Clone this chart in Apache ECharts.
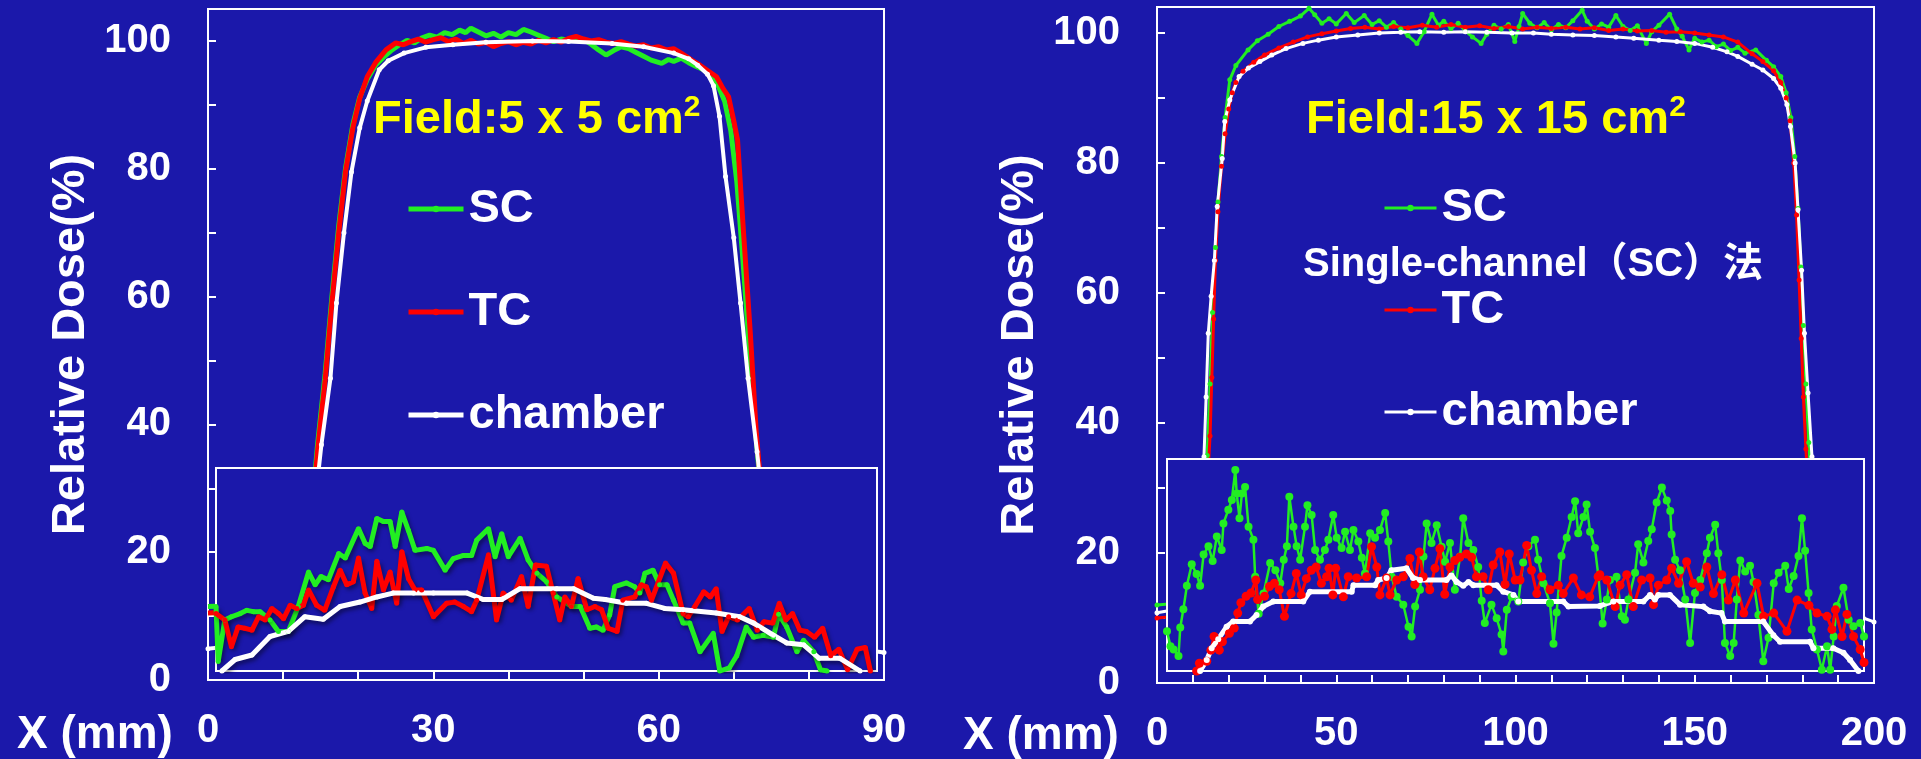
<!DOCTYPE html>
<html><head><meta charset="utf-8">
<script src="https://cdn.jsdelivr.net/npm/echarts@6/dist/echarts.min.js"></script>
<style>html,body{margin:0;padding:0;background:#1b18aa;}#c{width:1921px;height:759px;}</style>
</head><body><div id="c"></div>
<script>
// ---------- data (x in mm, y in % relative dose) ----------
const leftXTicks = [0, 30, 60, 90];
const rightXTicks = [0, 50, 100, 150, 200];
const yTicks = [0, 20, 40, 60, 80, 100];
const seriesNames = ['SC', 'TC', 'chamber'];

// Left: Field 5 x 5 cm2, main profiles
const leftMainSC = [[0,11.5],[3,11.6],[6,11.9],[8,12.3],[10,13.2],[11,14.2],[12,16.5],[13,21],[14,29],[14.6,37],[15.6,48],[16.5,60],[17.4,71],[18.3,80],[19.3,87],[20.2,91.2],[21.2,94.0],[22.3,96.2],[23.5,97.6],[24.5,98.6],[25.5,99.4],[26.5,100.1],[27.5,99.7],[28.5,100.5],[29.5,100.9],[30.5,100.6],[31.5,101.3],[32.5,101.0],[33.5,101.7],[34.3,101.3],[35,102.0],[36,101.4],[37,100.8],[38,101.2],[39,100.6],[40,101.3],[41,101.0],[42,101.8],[43,101.4],[44,100.9],[45,100.4],[46,99.9],[47,100.3],[48,100.1],[49,100.6],[50,100.2],[51,99.5],[52,98.6],[53,97.8],[54,98.5],[55,99.1],[56,98.8],[57,98.2],[58,97.6],[59,97.0],[60.4,96.5],[61.3,97.1],[62,96.8],[63,97.3],[64,96.6],[65,96.0],[66,95.5],[67,94.4],[68,92.8],[68.8,90.5],[69.6,86],[70.4,78],[71.2,66],[72,53],[72.9,39],[73.7,28],[74.7,20],[76,16],[78,14],[81,12.8],[84,12.2],[88,11.7]];
const leftMainTC = [[0,10.5],[3,10.6],[6,10.9],[8,11.3],[10,12.2],[11,13.2],[12,15.5],[13,20],[14,28],[14.6,36],[15.6,47],[16.5,59],[17.4,70],[18.3,79.5],[19.3,86.5],[20.2,91.0],[21.2,94.4],[22.3,96.6],[23.7,98.6],[25,99.7],[26,99.4],[27,99.9],[28,100.3],[29,99.8],[30,100.2],[31,100.5],[32,99.9],[33,100.3],[34,99.6],[35,100.1],[36,99.5],[37,99.8],[38,99.1],[39,99.6],[40,99.9],[41,99.4],[42,99.8],[43,99.5],[44,100.1],[45,99.7],[46,100.2],[47,99.8],[48,100.4],[49,100.7],[50,100.3],[51,100.0],[52,100.2],[53,99.8],[54,99.6],[55,99.9],[56,99.5],[57,99.2],[58,99.4],[59,98.9],[60,99.1],[61,98.6],[62,98.8],[63,98.1],[64.4,97.0],[65.5,96.2],[66.6,95.3],[67.7,94.4],[68.6,92.5],[69.3,91.3],[70,87.5],[70.5,84.5],[71.3,70],[72.2,54.3],[73,38.6],[73.8,28],[74.8,20],[76,15.5],[78,13],[81,11.8],[84,11.2],[88,10.6]];
const leftMainChamber = [[0,4.9],[3,5.3],[6,6.0],[8,6.8],[10,8.3],[11,9.8],[12,12],[13,16.5],[14,25],[15.1,36.8],[16.3,47.2],[17.1,59],[18.1,70],[19.1,79.5],[20.2,86.4],[21.2,90.6],[22.8,95.5],[24,96.9],[26.1,98.1],[29,99],[32.6,99.4],[37,99.8],[43.2,100],[48,99.9],[53.8,99.6],[58,99.1],[62,98.1],[64,97.2],[65.2,96.2],[66.5,94.8],[67.3,93],[68.1,88.2],[68.9,78.8],[70,69.2],[70.9,59],[71.9,47.2],[73.1,35.7],[74,26],[75,18],[76,13],[77,10],[79,7.6],[82,6.2],[85,5.2],[88,4.6],[90,4.3]];

// Left: inset curves
const leftInsetSC = [[0,10.1],[0.3,1.5],[1.2,8.0],[2.1,8.5],[3.3,9.0],[4.2,9.5],[5.1,9.3],[6.0,9.3],[7.35,8.0],[8.5,6.2],[9.85,6.2],[11.2,10.1],[12.6,15.5],[13.5,13.5],[14.3,14.8],[15.3,14.3],[16.7,18.4],[17.6,17.7],[19.4,22.3],[20.3,20.0],[21.0,19.5],[21.9,23.9],[22.8,23.4],[23.7,23.4],[24.4,19.5],[25.3,24.9],[26.2,22.0],[27.1,18.9],[28.7,19.2],[29.6,18.9],[31.2,15.8],[32.3,17.6],[33.7,18.1],[34.8,18.1],[35.5,20.5],[37.1,22.3],[38.0,17.9],[38.9,21.5],[39.8,17.9],[41.4,20.8],[42.5,17.4],[43.7,15.3],[45.0,14.0],[46.4,11.6],[48.4,10.1],[49.6,10.1],[50.9,6.7],[51.8,6.9],[52.7,6.4],[53.6,8.8],[54.3,13.2],[55.9,13.8],[57.0,13.2],[57.7,12.2],[58.4,15.3],[59.5,15.8],[60.4,13.5],[61.4,13.5],[62.3,11.1],[63.6,7.5],[64.5,7.5],[65.9,3.0],[67.7,5.9],[68.6,0],[69.9,0.5],[70.9,2.4],[72.2,6.9],[73.2,5.3],[74.5,5.6],[75.9,5.3],[76.6,8.9],[77.7,6.9],[79.1,3.0],[80.0,4.8],[81.4,3.0],[82.3,0.2],[83.2,0]];
const leftInsetTC = [[0,9.0],[1.2,8.0],[2.1,3.8],[3.0,6.9],[3.9,6.7],[4.9,6.4],[5.8,8.5],[6.7,8.0],[7.6,9.8],[8.5,9.0],[9.2,8.2],[10.1,10.3],[11.0,9.8],[11.9,10.3],[12.6,12.7],[13.7,10.3],[14.8,9.5],[16.0,13.2],[16.9,15.8],[17.8,13.5],[18.7,14.0],[19.4,17.7],[20.3,12.2],[21.2,9.8],[21.9,17.2],[22.8,12.7],[23.7,15.5],[24.6,10.6],[25.3,18.7],[26.2,14.5],[27.1,12.7],[28.0,12.7],[29.6,8.5],[31.4,10.6],[32.5,10.8],[33.7,10.1],[34.8,9.3],[35.5,11.1],[37.1,18.2],[38.2,8.0],[39.1,12.2],[40.2,11.1],[41.6,14.8],[42.5,10.1],[43.5,16.6],[45.0,16.4],[45.9,12.2],[46.8,8.0],[47.5,11.6],[48.4,10.1],[49.3,14.5],[50.5,9.6],[51.6,10.1],[52.5,9.6],[53.4,6.7],[54.6,6.2],[55.4,11.1],[57.0,11.6],[57.9,13.5],[58.6,13.2],[59.3,11.1],[61.2,16.9],[62.3,15.3],[63.6,9.0],[64.3,8.5],[65.2,10.1],[66.4,12.4],[67.3,11.6],[68.1,12.9],[68.9,6.2],[69.8,8.5],[71.0,8.0],[72.6,9.8],[73.7,6.4],[74.6,7.7],[75.8,7.5],[76.7,10.6],[77.6,8.0],[78.5,9.0],[79.5,6.4],[80.4,6.2],[81.5,5.3],[82.6,6.7],[83.7,2.4],[84.8,3.4],[86.0,0.2],[87.3,3.4],[88.4,3.7],[89.1,0]];
const leftInsetChamber = [[0.8,0],[2.6,1.8],[4.9,2.5],[7.35,5.4],[9.85,6.2],[12.1,8.5],[14.6,8.1],[16.9,10.1],[19.6,10.8],[21.9,11.6],[24.1,12.2],[26.9,12.2],[29.6,12.2],[34.2,12.2],[36.4,11.2],[38.9,11.2],[41.4,12.9],[46.4,12.9],[48.7,12.9],[51.4,11.4],[53.0,11.2],[55.9,10.6],[58.6,10.6],[61.1,9.8],[63.6,9.6],[68.1,9.1],[71.3,8.5],[73.2,7.5],[75.9,5.6],[77.7,4.4],[80.0,4.1],[82.1,2.0],[84.9,2.0],[87.7,0]];

// Right: Field 15 x 15 cm2, main profiles
const rightMainSC = [[0,12],[4,12.2],[8,12.8],[10,13.5],[11,15],[12,18],[13,25],[14,35],[14.8,46],[15.5,57],[16.3,67],[17,74],[18,81],[19,87],[20.3,92.8],[22,95],[25.4,97.4],[28,98.8],[31,99.8],[34,101],[37,101.8],[40,102.6],[42.4,103.8],[44,102.8],[46,101.5],[48,102.2],[50,101.4],[52.8,103.0],[55,101.6],[57.8,102.7],[60,101.3],[62,101.9],[64,100.9],[66,101.6],[68,100.6],[70,99.6],[72.5,98.4],[74.5,100.2],[76.7,102.9],[78.5,101.2],[80,101.8],[82,100.7],[84,101.5],[86,100.3],[88,99.4],[90.4,98.4],[92,99.8],[94,101.2],[96,100.6],[98,101.3],[99.8,98.7],[101,101.0],[102,103.0],[104,101.5],[106,100.8],[108,101.6],[110,100.5],[112,101.3],[114,100.8],[116,101.9],[118.6,103.5],[120,101.8],[122,100.6],[124,101.4],[126,100.9],[128,102.7],[130,101.0],[132,100.4],[134,101.1],[136.5,98.4],[138,100.2],[140,101.2],[143,102.9],[145,100.6],[146.5,99.5],[148.4,97.4],[150,99.2],[152,98.6],[154,98.9],[156,97.9],[158,98.3],[160,97.3],[162,97.8],[164,96.9],[167,97.4],[170,95.8],[172,94.8],[174,93.3],[175.5,90.8],[176.8,87],[177.9,81],[178.8,73],[179.6,64],[180.3,55],[181,46],[181.8,37],[182.7,29],[184,21],[186,16],[188,13.5],[192,12.5],[196,12]];
const rightMainTC = [[0,10],[4,10.2],[8,10.8],[10,11.5],[11,12.5],[12,15],[13,21],[14,30],[14.8,38],[15.3,47],[15.8,56],[16.3,65],[17,72.5],[18,79.5],[19,84.5],[20,88.3],[21,90.8],[22,92.4],[24,94.1],[27,95.5],[30,96.6],[34,97.7],[38,98.6],[42,99.4],[46,99.9],[50,100.3],[54,100.7],[58,100.9],[62,100.6],[66,101.0],[70,100.8],[74,101.2],[78,100.9],[82,101.3],[86,100.9],[90,101.1],[94,100.7],[98,101.0],[102,100.6],[106,100.9],[110,100.7],[114,100.9],[118,100.6],[122,100.8],[126,100.4],[130,100.6],[134,100.3],[138,100.4],[142,100.1],[146,100.2],[150,100.0],[154,99.7],[158,99.4],[162,98.6],[166,96.8],[169,95.6],[172,94.2],[174,92.4],[175.5,90],[176.6,86.5],[177.6,80],[178.4,72],[179.1,62],[179.7,53],[180.3,44],[181,36],[182,27],[183.5,19],[185,15],[188,12],[192,11],[196,10.6]];
const rightMainChamber = [[0,10.8],[4,11.2],[8,12],[10,13],[11,14.5],[12,19],[12.6,26],[13.1,34.8],[13.7,44],[14.3,53.8],[15.1,59.5],[16,65],[16.8,73.3],[18.2,80.7],[18.9,86.4],[20.3,89.7],[22.9,93.3],[25.5,94.6],[28.7,95.6],[32,96.6],[36,97.6],[40.7,98.4],[45,98.9],[50,99.4],[56,99.7],[62,100],[68,100.1],[73.3,100.2],[80,100.1],[86,100.2],[92,100.1],[99,100],[105,100],[110,99.8],[116,99.7],[122,99.6],[128,99.4],[133,99.2],[140,98.9],[145,98.7],[150,98.4],[155,97.8],[159,97.1],[162,96.4],[166,95.2],[169,94.3],[172,93],[174,91.5],[175.7,89],[176.7,85.6],[178,80],[178.8,72.8],[179.8,63.5],[180.6,53.8],[181.6,44.6],[182.7,34.8],[183.8,25],[185,18],[186.5,14],[189,12],[193,10.8],[197,10],[200,9.4]];

// Right: inset curves
const rightInsetSC = [[0,6.1],[1.0,3.8],[1.9,3.3],[3.3,2.3],[3.8,6.7],[4.7,9.5],[5.7,13.1],[7.1,16.4],[8.5,14.9],[9.5,13.1],[10.5,17.9],[11.9,19.2],[13.1,16.9],[14.3,20.7],[15.7,18.6],[16.2,22.7],[17.6,24.8],[18.6,26.3],[19.6,30.9],[20.0,27.3],[20.8,23.5],[21.5,27.3],[22.4,28.3],[23.4,22.2],[24.8,20.2],[25.3,14.5],[26.3,8.8],[27.7,11.9],[29.6,16.6],[31.1,15.5],[32.5,13.5],[33.5,17.1],[34.4,19.2],[35.1,26.8],[36.3,22.2],[37.2,19.2],[38.2,17.1],[39.6,22.2],[40.3,25.5],[41.5,24.0],[42.5,18.6],[43.9,17.1],[45.3,18.6],[46.3,20.2],[47.7,24.0],[48.7,20.5],[50.1,18.9],[51.1,21.4],[52.5,18.6],[53.5,21.7],[54.9,19.9],[55.9,17.4],[56.8,15.0],[58.3,21.2],[59.7,20.5],[61.1,21.7],[62.6,24.3],[63.5,19.9],[64.5,14.5],[65.9,11.4],[67.8,10.2],[69.3,6.8],[70.2,5.3],[71.2,9.9],[72.6,12.5],[73.6,17.6],[74.5,22.7],[75.9,19.7],[77.4,22.4],[78.8,19.1],[79.8,16.8],[81.2,19.7],[82.6,12.5],[84.1,17.6],[85.0,23.5],[86.5,19.7],[87.9,18.6],[89.3,16.0],[90.3,10.8],[91.2,7.4],[93.1,10.2],[94.6,8.1],[96.0,5.6],[96.5,3.0],[97.5,9.4],[98.9,11.4],[100.8,10.7],[102.2,16.7],[103.7,19.2],[105.6,20.2],[106.5,17.1],[108.0,13.5],[109.9,10.4],[110.9,4.2],[111.8,9.0],[113.2,17.7],[114.7,20.5],[116.1,23.7],[117.1,26.1],[118.0,21.2],[119.5,23.7],[120.4,25.6],[121.4,21.4],[122.8,18.9],[123.8,14.5],[125.0,7.3],[126.2,11.0],[127.1,14.0],[129.0,14.5],[130.5,8.4],[131.4,7.9],[132.4,11.0],[134.3,15.1],[135.2,19.5],[136.7,16.7],[138.1,20.0],[139.1,21.8],[140.5,25.9],[142.0,28.2],[143.4,26.2],[144.4,24.6],[144.8,21.0],[145.8,17.1],[147.2,15.5],[148.7,11.0],[150.1,4.3],[151.5,12.0],[153.0,14.0],[154.9,18.1],[155.8,20.5],[157.3,22.5],[158.2,18.1],[159.2,14.0],[160.1,4.3],[161.6,2.3],[162.6,4.3],[163.5,11.0],[164.5,17.0],[165.9,15.3],[167.3,16.2],[168.3,13.7],[169.7,8.6],[171.1,1.5],[172.6,5.1],[174.1,13.5],[175.5,15.1],[177.4,16.2],[178.4,12.6],[179.8,14.6],[181.2,17.7],[182.2,23.5],[183.1,18.5],[184.1,12.0],[185.0,6.4],[186.5,3.3],[187.9,0.2],[189.4,3.8],[190.3,0.2],[191.3,5.3],[192.2,10.0],[194.1,12.8],[195.6,7.9],[197.0,6.9],[198.9,7.4],[200,5.3]];
const rightInsetTC = [[8.5,0],[9.3,1.2],[11.4,1.5],[12.6,3.2],[13.5,5.3],[15.0,3.2],[15.9,4.5],[17.9,5.8],[19.3,6.6],[20.3,8.9],[21.2,10.5],[22.7,11.5],[24.1,12.0],[25.5,14.0],[26.0,11.0],[28.0,11.5],[29.4,13.0],[30.8,13.5],[32.2,12.5],[33.7,8.4],[35.6,11.9],[37.1,15.0],[38.5,11.7],[40.0,14.2],[41.4,15.5],[42.8,16.0],[44.3,13.5],[45.8,14.5],[46.5,15.8],[47.6,11.7],[48.4,15.8],[50.6,11.4],[52.0,14.5],[54.4,14.3],[57.3,14.5],[58.7,19.1],[60.2,16.0],[61.1,11.7],[63.0,14.3],[64.0,11.7],[65.9,14.0],[67.8,14.5],[69.7,17.3],[71.1,13.3],[72.4,18.3],[73.5,14.5],[75.4,12.5],[76.9,15.8],[78.3,18.8],[79.7,11.8],[81.2,16.0],[82.6,17.0],[84.0,17.5],[85.9,18.0],[87.4,17.5],[88.8,14.5],[90.7,14.5],[92.2,12.5],[93.6,16.3],[95.5,18.3],[97.0,13.3],[98.2,18.0],[99.9,14.0],[101.3,14.0],[103.2,19.3],[104.6,15.5],[106.1,11.9],[107.5,14.5],[109.9,12.5],[112.3,13.2],[113.7,11.9],[116.6,14.3],[118.9,11.7],[121.3,11.4],[123.7,14.5],[124.2,14.8],[126.2,14.0],[128.6,9.9],[130.0,13.2],[131.9,14.8],[133.8,9.9],[136.2,14.0],[138.6,14.3],[139.6,10.2],[141.0,13.2],[143.4,14.0],[144.8,15.8],[146.8,13.5],[149.1,16.8],[151.0,13.5],[153.0,12.9],[154.9,16.0],[156.8,11.9],[159.2,14.8],[161.1,10.9],[163.1,14.0],[165.5,8.9],[169.3,13.5],[171.2,8.4],[174.1,8.9],[177.9,6.1],[180.8,10.9],[184.2,10.1],[186.5,8.9],[189.4,8.4],[190.8,6.4],[191.8,9.4],[193.7,5.3],[195.1,8.7],[197.0,5.3],[198.9,3.3],[200,1.3]];
const rightInsetChamber = [[9.5,0],[11.4,1.7],[12.8,3.5],[14.7,4.9],[17.1,6.8],[19.0,7.6],[23.8,7.6],[25.7,8.6],[27.6,9.9],[30.5,10.7],[39.1,10.7],[41.0,12.2],[53.0,12.2],[53.5,13.2],[59.7,13.2],[60.6,14.0],[63.0,14.3],[64.4,15.5],[68.7,15.8],[70.6,14.3],[72.6,14.0],[80.2,14.0],[81.6,14.7],[83.1,13.7],[85.0,13.1],[86.5,13.7],[87.9,13.2],[94.6,13.2],[96.5,12.2],[99.4,11.7],[100.8,10.7],[113.7,10.7],[115.2,9.9],[124.2,10.0],[128.1,10.7],[136.7,10.7],[138.6,11.7],[140.0,11.0],[141.0,11.7],[144.3,11.7],[147.2,10.2],[153.9,9.9],[155.8,9.2],[159.1,8.9],[160.1,7.6],[171.1,7.6],[174.0,5.5],[175.9,4.5],[184.5,4.5],[185.5,3.5],[191.2,3.5],[194.1,2.8],[196.0,1.7],[198.4,0]];

// ---------- chart ----------
const FONT = "'Liberation Sans', Arial, 'Noto Sans CJK SC', sans-serif";
const BG = '#1b18aa';
const GREEN = '#22ee22', RED = '#ff0000', WHITE = '#ffffff', YELLOW = '#ffff00';
const white = {color: '#fff', fontFamily: FONT, fontWeight: 'bold'};

function mainX(gi, max, interval, split) {
  return {gridIndex: gi, type: 'value', min: 0, max: max, interval: interval,
    axisLine: {show: true, onZero: false, lineStyle: {color: '#fff', width: 2}},
    axisTick: {show: true, inside: true, length: 8, lineStyle: {color: '#fff', width: 2}},
    minorTick: {show: true, splitNumber: split, length: 8, lineStyle: {color: '#fff', width: 2}},
    splitLine: {show: false},
    axisLabel: Object.assign({fontSize: 40, margin: 31}, white)};
}
function mainY(gi, max) {
  return {gridIndex: gi, type: 'value', min: 0, max: max, interval: 20,
    name: 'Relative Dose(%)', nameLocation: 'middle', nameGap: 113, nameRotate: 90,
    nameTextStyle: Object.assign({fontSize: 47}, white),
    axisLine: {show: true, onZero: false, lineStyle: {color: '#fff', width: 2}},
    axisTick: {show: true, inside: true, length: 8, lineStyle: {color: '#fff', width: 2}},
    minorTick: {show: true, splitNumber: 2, length: 8, lineStyle: {color: '#fff', width: 2}},
    splitLine: {show: false},
    axisLabel: Object.assign({fontSize: 40, margin: 37, showMaxLabel: false}, white)};
}
function hidden(gi, max) { return {gridIndex: gi, type: 'value', min: 0, max: max, show: false}; }

function ser(name, data, color, ax, w, sym, z, shadow) {
  const ls = {color: color, width: w};
  if (shadow) Object.assign(ls, {shadowColor: 'rgba(0,0,0,0.45)', shadowBlur: 4, shadowOffsetX: 2, shadowOffsetY: 3});
  return {type: 'line', name: name, data: data, xAxisIndex: ax, yAxisIndex: ax,
    color: color, symbol: 'circle', symbolSize: sym || 4, showSymbol: sym > 0,
    lineStyle: ls, itemStyle: {color: color}, z: z, animation: false, silent: true};
}
const richField = {
  a: {color: YELLOW, fontSize: 47, fontWeight: 'bold', fontFamily: FONT, lineHeight: 54},
  s: {color: YELLOW, fontSize: 30, fontWeight: 'bold', fontFamily: FONT, verticalAlign: 'top', lineHeight: 30}
};

const chart = echarts.init(document.getElementById('c'), null, {renderer: 'canvas'});
chart.setOption({
  backgroundColor: BG,
  animation: false,
  grid: [
    {left: 208, right: 1037, top: 9, bottom: 79, show: true, backgroundColor: BG, borderColor: '#fff', borderWidth: 2, z: 0},
    {left: 216, right: 1044, top: 468, bottom: 88, show: true, backgroundColor: BG, borderColor: '#fff', borderWidth: 2, z: 3},
    {left: 1157, right: 47, top: 7, bottom: 76, show: true, backgroundColor: BG, borderColor: '#fff', borderWidth: 2, z: 0},
    {left: 1167, right: 57, top: 459, bottom: 88, show: true, backgroundColor: BG, borderColor: '#fff', borderWidth: 2, z: 3}
  ],
  xAxis: [mainX(0, leftXTicks[leftXTicks.length-1], leftXTicks[1]-leftXTicks[0], 3), hidden(1, 90),
          mainX(2, rightXTicks[rightXTicks.length-1], rightXTicks[1]-rightXTicks[0], 5), hidden(3, 200)],
  yAxis: [mainY(0, 105), hidden(1, 31.8), mainY(2, 104), hidden(3, 32.6)],
  title: [
    {text: '{a|Field:5 x 5 cm}{s|2}', left: 373, top: 93, padding: 0, textStyle: {rich: richField}},
    {text: '{a|Field:15 x 15 cm}{s|2}', left: 1306, top: 93, padding: 0, textStyle: {rich: richField}},
    {text: 'Single-channel（SC）法', left: 1303, top: 242, padding: 0,
     textStyle: Object.assign({fontSize: 40, lineHeight: 46}, white)},
    {text: 'X (mm)', left: 17, top: 710, padding: 0, textStyle: Object.assign({fontSize: 46, lineHeight: 50}, white)},
    {text: 'X (mm)', left: 963, top: 711, padding: 0, textStyle: Object.assign({fontSize: 46, lineHeight: 50}, white)}
  ],
  legend: [
    {data: seriesNames, orient: 'vertical', left: 406, top: 184, padding: 0, itemWidth: 55, itemHeight: 8, itemGap: 53,
     selectedMode: false, lineStyle: {width: 5}, textStyle: Object.assign({fontSize: 47, lineHeight: 50}, white)},
    {data: seriesNames.map(n => n + '|R'), orient: 'vertical', left: 1383, top: 183, padding: 0, itemWidth: 52, itemHeight: 8, itemGap: 52,
     selectedMode: false, lineStyle: {width: 3}, formatter: n => n.split('|')[0],
     textStyle: Object.assign({fontSize: 47, lineHeight: 50}, white)}
  ],
  series: [
    ser('SC', leftMainSC, GREEN, 0, 5, 0, 2),
    ser('TC', leftMainTC, RED, 0, 5, 0, 2),
    ser('chamber', leftMainChamber, WHITE, 0, 4, 5, 2),
    ser('SC inset L', leftInsetSC, GREEN, 1, 5, 5, 4, true),
    ser('TC inset L', leftInsetTC, RED, 1, 5, 5, 4, true),
    ser('chamber inset L', leftInsetChamber, WHITE, 1, 5, 5, 4, true),
    ser('SC|R', rightMainSC, GREEN, 2, 3, 5, 2),
    ser('TC|R', rightMainTC, RED, 2, 3, 5, 2),
    ser('chamber|R', rightMainChamber, WHITE, 2, 3, 5, 2),
    ser('SC inset R', rightInsetSC, GREEN, 3, 2.5, 8, 4),
    ser('TC inset R', rightInsetTC, RED, 3, 3, 9, 4),
    ser('chamber inset R', rightInsetChamber, WHITE, 3, 5, 6, 4)
  ]
});
</script>
</body></html>
